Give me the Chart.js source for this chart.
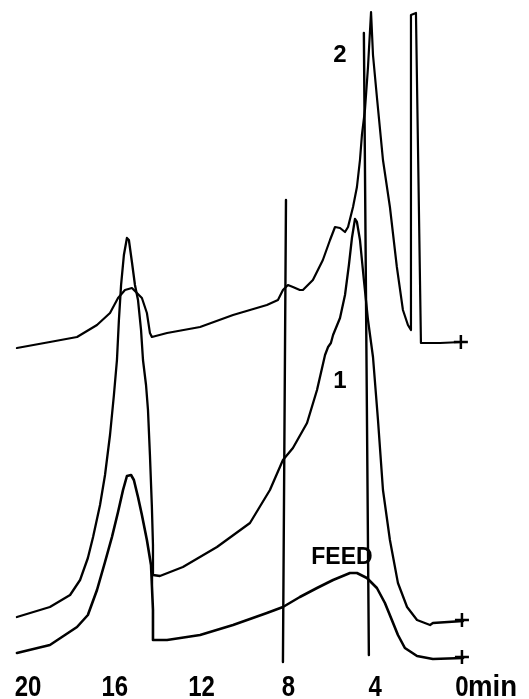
<!DOCTYPE html>
<html>
<head>
<meta charset="utf-8">
<script src="https://cdn.jsdelivr.net/npm/chart.js@4"></script>
<style>
    body { margin: 0; background: #fff; }
    #contenedor { width: 529px; height: 699px; position: relative; }
</style>
</head>
<body>
<div id="contenedor"><canvas id="canvaCromatograma"></canvas></div>
<script>
// tiempos en minutos (el eje va de 20 a 0) y señal del detector en unidades arbitrarias
const tiempoTraza2 = [20.51, 18.99, 17.74, 16.82, 16.22, 15.85, 15.53, 15.21, 14.98, 14.75, 14.52, 14.38, 14.29,
    13.59, 12.07, 10.55, 9.77, 8.99, 8.48, 8.25, 8.02, 7.79, 7.47, 7.33, 6.87, 6.41, 6.08, 5.85, 5.62, 5.39, 5.25,
    5.02, 4.84, 4.70, 4.61, 4.47, 4.33, 4.19, 4.10, 3.92, 3.64, 3.32, 3.00, 2.72, 2.49, 2.35, 2.35, 2.12, 1.89, 1.01, 0];
const senalTraza2 = [351, 357, 362, 374, 386, 401, 409, 411, 406, 401, 386, 366, 362,
    366, 372, 384, 389, 394, 399, 409, 414, 412, 409, 409, 419, 439, 459, 472, 471, 467, 472,
    492, 512, 539, 564, 589, 632, 687, 644, 602, 539, 492, 432, 389, 374, 369, 684, 686, 356, 356, 357];

const tiempoTraza1 = [20.51, 18.99, 18.06, 17.60, 17.24, 17.00, 16.68, 16.45, 16.22, 16.04, 15.90, 15.81, 15.71,
    15.58, 15.44, 15.35, 15.21, 15.07, 14.93, 14.79, 14.70, 14.56, 14.47, 14.38, 14.29, 14.24, 14.24, 13.92, 12.86,
    11.29, 9.77, 8.85, 8.25, 7.79, 7.14, 6.68, 6.31, 6.17, 6.04, 5.94, 5.62, 5.39, 5.21, 5.07, 4.93, 4.84, 4.70,
    4.52, 4.33, 4.10, 3.87, 3.64, 3.32, 2.95, 2.53, 2.07, 1.47, 1.34, -0.05];
const senalTraza1 = [82, 92, 104, 119, 141, 162, 194, 224, 264, 304, 339, 379, 414,
    444, 461, 459, 437, 414, 399, 369, 339, 314, 289, 244, 192, 154, 124, 123, 132,
    152, 176, 209, 239, 251, 276, 309, 344, 352, 356, 364, 381, 404, 434, 461, 480, 477, 459,
    419, 379, 342, 279, 209, 159, 116, 92, 79, 74, 76, 78];

const tiempoFeed = [20.51, 18.99, 17.74, 17.24, 16.82, 16.45, 16.13, 15.85, 15.62, 15.44, 15.25, 15.12, 14.93,
    14.75, 14.52, 14.33, 14.29, 14.24, 14.24, 13.59, 12.07, 10.55, 8.99, 8.25, 7.47, 6.68, 5.94, 5.16, 4.84,
    4.38, 3.92, 3.55, 3.23, 2.95, 2.63, 2.07, 1.34, -0.05];
const senalFeed = [46, 54, 72, 84, 109, 137, 162, 187, 209, 223, 224, 219, 202,
    184, 159, 134, 114, 89, 59, 59, 64, 74, 86, 92, 102, 111, 119, 126, 126,
    121, 111, 96, 79, 64, 51, 43, 40, 41];

// lineas verticales de marca (inicio y fin) a 8 y ~4.4 minutos
const tiempoMarca8 = [8.11, 8.25];
const senalMarca8 = [499, 37];
const tiempoMarca4 = [4.52, 4.29];
const senalMarca4 = [666, 44];

// cruces al final de cada registro
const tiempoCruces = [0.05, 0, 0];
const senalCruces = [357, 79, 42];

const marcasTiempo = [20, 16, 12, 8, 4, 0];

// donde va cada rotulo (en unidades del grafico)
const rotulos = [
    { texto: "2", t: 5.62, h: 644, fuente: "bold 24px 'Liberation Sans', Arial, sans-serif" },
    { texto: "1", t: 5.62, h: 318, fuente: "bold 24px 'Liberation Sans', Arial, sans-serif" },
    { texto: "FEED", t: 5.53, h: 141, fuente: "bold 23px 'Liberation Sans', Arial, sans-serif" }
];

function unirPuntos(tiempos, valores) {
    return tiempos.map((t, i) => ({ x: t, y: valores[i] }));
}

function traza(datos, grosor) {
    return {
        data: datos,
        borderColor: "#000",
        borderWidth: grosor,
        pointRadius: 0,
        tension: 0,
        fill: false,
        borderJoinStyle: "round",
        borderCapStyle: "round"
    };
}

//texto angosto: se comprime en horizontal
function textoAngosto(ctx, texto, px, py, escala, alineado) {
    ctx.save();
    ctx.translate(px, py);
    ctx.scale(escala, 1);
    ctx.textAlign = alineado;
    ctx.fillText(texto, 0, 0);
    ctx.restore();
}

//plugin para los textos del eje y los rotulos de cada traza
const textosPlugin = {
    id: "textos",
    afterDatasetsDraw(chart) {
        const { ctx, scales: { x, y } } = chart;
        ctx.save();
        ctx.fillStyle = "#000";
        ctx.textBaseline = "alphabetic";
        ctx.font = "bold 30px 'Liberation Sans', Arial, sans-serif";
        marcasTiempo.forEach(t => {
            textoAngosto(ctx, String(t), x.getPixelForValue(t), 696, 0.8, "center");
        });
        textoAngosto(ctx, "min", x.getPixelForValue(0) + 6, 696, 0.92, "left");

        ctx.textAlign = "center";
        ctx.textBaseline = "middle";
        rotulos.forEach(r => {
            ctx.font = r.fuente;
            ctx.fillText(r.texto, x.getPixelForValue(r.t), y.getPixelForValue(r.h));
        });
        ctx.restore();
    }
};

document.addEventListener("DOMContentLoaded", function() {
    new Chart(document.getElementById("canvaCromatograma"), {
        type: "line",
        data: {
            datasets: [
                traza(unirPuntos(tiempoTraza2, senalTraza2), 2.2),
                traza(unirPuntos(tiempoTraza1, senalTraza1), 2.3),
                traza(unirPuntos(tiempoFeed, senalFeed), 2.6),
                traza(unirPuntos(tiempoMarca8, senalMarca8), 2.4),
                traza(unirPuntos(tiempoMarca4, senalMarca4), 2.4),
                {
                    type: "scatter",
                    data: unirPuntos(tiempoCruces, senalCruces),
                    pointStyle: "cross",
                    pointRadius: 7,
                    borderColor: "#000",
                    borderWidth: 2.5,
                    showLine: false
                }
            ]
        },
        options: {
            responsive: true,
            maintainAspectRatio: false,
            animation: false,
            layout: { padding: 0, autoPadding: false },
            scales: {
                x: { type: "linear", reverse: true, min: -3.09, max: 21.29, display: false },
                y: { type: "linear", min: 0, max: 699, display: false }
            },
            plugins: {
                legend: { display: false },
                tooltip: { enabled: false }
            }
        },
        plugins: [textosPlugin]
    });
});
</script>
</body>
</html>
